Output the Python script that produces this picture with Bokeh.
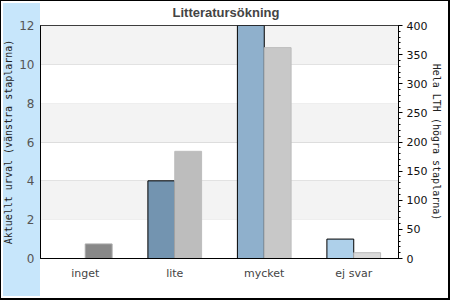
from bokeh.plotting import figure
from bokeh.models import (Range1d, LinearAxis, FactorRange, ColumnDataSource, BoxAnnotation,
                          SingleIntervalTicker, FixedTicker)
from bokeh.transform import dodge
from bokeh.embed import file_html
from bokeh.resources import INLINE

categories = ["inget", "lite", "mycket", "ej svar"]
left_values = [0, 4, 12, 1]
right_values = [25, 184, 362, 10]
left_colors = ["#5f7f9b", "#7394b0", "#8fb0cc", "#aed0ea"]
right_colors = ["#888888", "#bdbdbd", "#c8c8c8", "#d9d9d9"]
right_lines = ["#a8a8a8", "#bdbdbd", "#bcbcbc", "#bbbbbb"]
left_ticks = [0, 2, 4, 6, 8, 10, 12]

src = ColumnDataSource(dict(cat=categories, left=left_values, right=right_values,
                            lc=left_colors, rc=right_colors, rl=right_lines))

p = figure(width=450, height=300, x_range=FactorRange(*categories), y_range=Range1d(0, 12),
           output_backend="svg", toolbar_location=None,
           min_border_left=40, min_border_right=52, min_border_top=25, min_border_bottom=42)
p.extra_y_ranges = {"right": Range1d(0, 400)}

p.border_fill_color = None
p.styles = {
    "background": "linear-gradient(#c7e6fb, #c7e6fb) 3px 3px / 37px 293px no-repeat, white",
    "box-shadow": "inset 1px 1px 0 0 black, inset -2px -2px 0 0 black",
}

# background bands
for b in [(10, 12), (6, 8), (2, 4)]:
    p.add_layout(BoxAnnotation(bottom=b[0], top=b[1], fill_color="#f3f3f3", fill_alpha=1,
                               line_alpha=0, level="underlay"))

p.vbar(x=dodge("cat", -0.15, range=p.x_range), top="left", width=0.3, source=src,
       fill_color="lc", line_color="black", line_width=1)
p.vbar(x=dodge("cat", 0.15, range=p.x_range), top="right", width=0.3, source=src,
       fill_color="rc", line_color="rl", line_width=1, y_range_name="right")

p.xgrid.grid_line_color = None
p.ygrid.grid_line_color = "#dddddd"
p.ygrid.ticker = FixedTicker(ticks=left_ticks)
p.outline_line_color = "black"
p.outline_line_width = 1
p.background_fill_color = "white"

ya = p.yaxis[0]
ya.ticker = FixedTicker(ticks=left_ticks)
ya.major_tick_out = 0
ya.major_tick_in = 0
ya.minor_tick_out = 0
ya.axis_line_color = "black"
ya.major_label_text_color = "#555555"
ya.major_label_text_font = "DejaVu Sans"
ya.major_label_text_font_size = "12px"
ya.major_label_standoff = 6
ya.axis_label = "Aktuellt urval (vänstra staplarna)"
ya.axis_label_text_font = "DejaVu Sans Mono"
ya.axis_label_text_font_size = "10px"
ya.axis_label_text_font_style = "normal"
ya.axis_label_text_color = "#222222"
ya.axis_label_standoff = 2

ra = LinearAxis(y_range_name="right", ticker=SingleIntervalTicker(interval=50, num_minor_ticks=5))
ra.major_tick_out = 4
ra.major_tick_in = 0
ra.minor_tick_out = 2
ra.minor_tick_in = 0
ra.axis_line_color = "black"
ra.major_label_text_color = "#111111"
ra.major_label_text_font = "DejaVu Sans"
ra.major_label_text_font_size = "11px"
ra.major_label_standoff = 4
ra.axis_label = "Hela LTH (högra staplarna)"
ra.axis_label_text_font = "DejaVu Sans Mono"
ra.axis_label_text_font_size = "10px"
ra.axis_label_text_font_style = "normal"
ra.axis_label_text_color = "#222222"
ra.axis_label_standoff = 1
p.add_layout(ra, "right")

xa = p.xaxis[0]
xa.major_tick_out = 0
xa.major_tick_in = 0
xa.axis_line_color = "black"
xa.major_label_text_color = "#444444"
xa.major_label_text_font = "DejaVu Sans"
xa.major_label_text_font_size = "11px"
xa.major_label_standoff = 8

p.title.text = "Litteratursökning"
p.title.align = "left"
p.title.offset = 132
p.title.standoff = 7
p.title.vertical_align = "top"
p.title.text_font = "Liberation Sans"
p.title.text_font_style = "bold"
p.title.text_font_size = "13px"
p.title.text_color = "#444444"

open("out.html", "w").write(file_html(p, INLINE))
